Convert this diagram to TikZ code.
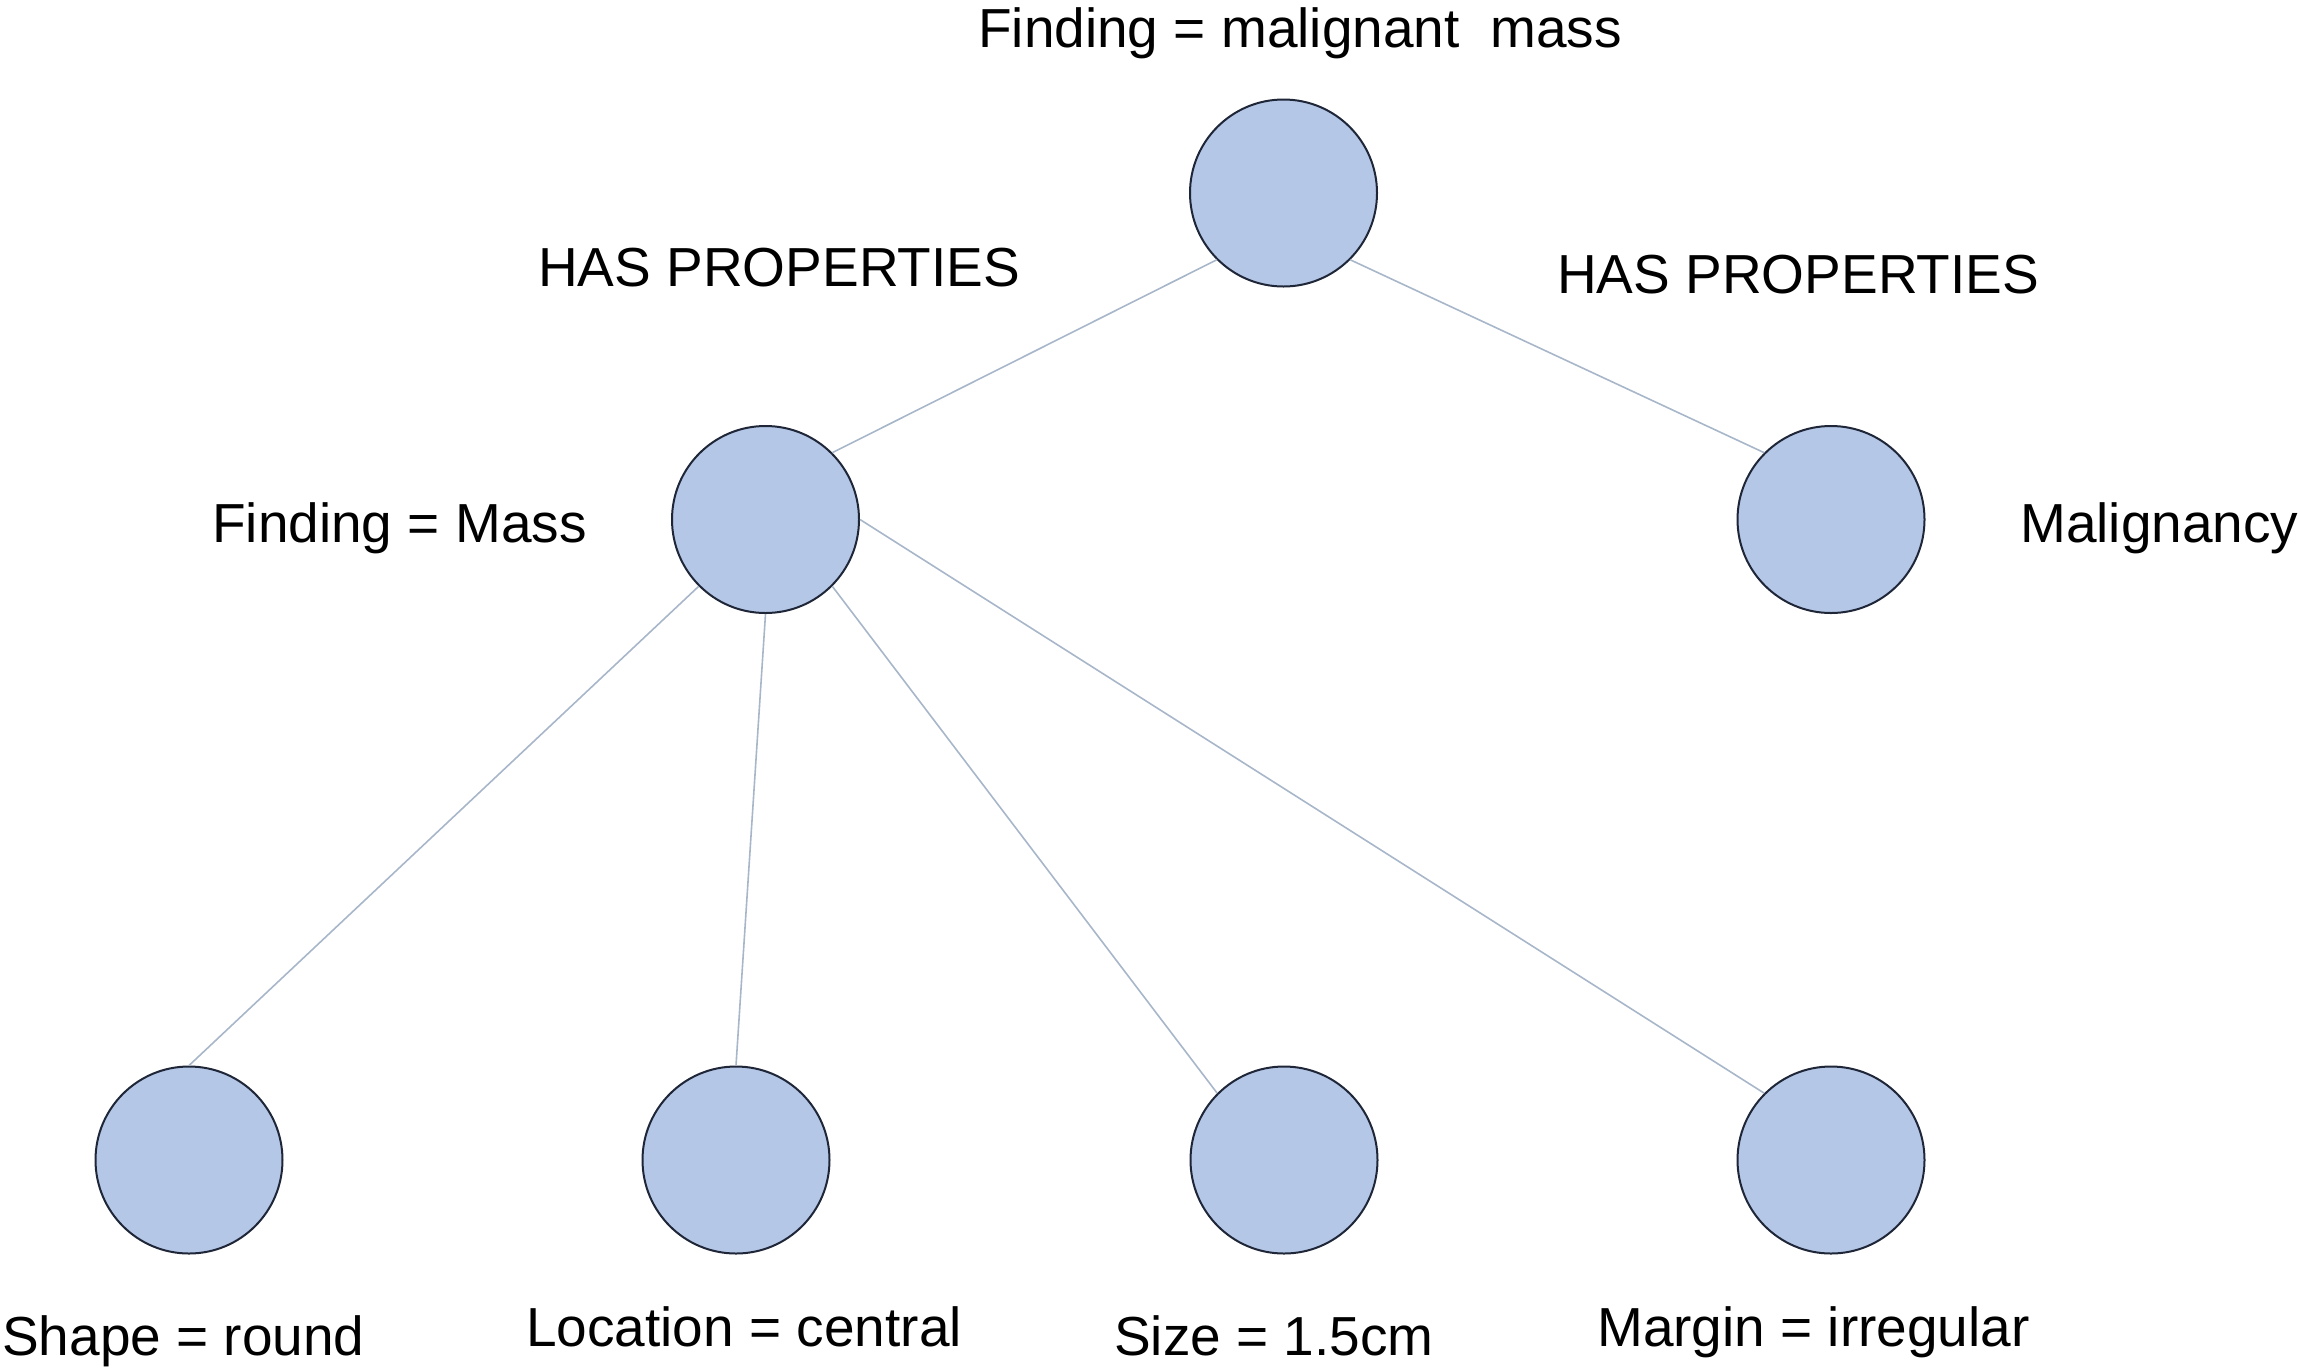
\documentclass[tikz,border=0pt]{standalone}
\usepackage{fontspec}
\setmainfont{Liberation Sans}
\definecolor{nodefill}{HTML}{B4C7E7}
\definecolor{nodeline}{HTML}{1E2638}
\definecolor{edgecol}{HTML}{A8B6C9}
\tikzset{
  ball/.style={circle, draw=nodeline, fill=nodefill, line width=2pt, minimum size=187pt, inner sep=0pt},
  edge/.style={draw=edgecol, line width=1.6pt},
  lbl/.style={anchor=base west, inner sep=0pt, font=\fontsize{55}{66}\selectfont}
}
\begin{document}
\begin{tikzpicture}[x=1pt,y=-1pt]
\useasboundingbox (0,0) rectangle (2299,1369);
\node[ball] (top) at (1283.5,193) {};
\node[ball] (mass) at (765.5,519.5) {};
\node[ball] (malig) at (1831,519.5) {};
\node[ball] (shape) at (189,1160) {};
\node[ball] (loc) at (736,1160) {};
\node[ball] (size) at (1284,1160) {};
\node[ball] (margin) at (1831,1160) {};

\draw[edge] (top.south west) -- (mass.north east);
\draw[edge] (top.south east) -- (malig.north west);
\draw[edge] (mass.south west) -- (shape.north);
\draw[edge] (mass.south) -- (loc.north);
\draw[edge] (mass.south east) -- (size.north west);
\draw[edge] (mass.east) -- (margin.north west);

\node[lbl] (ttop) at (978,47) {Finding = malignant\ \ mass};
\node[lbl] (hpl) at (538,286) {HAS PROPERTIES};
\node[lbl] (hpr) at (1557,293) {HAS PROPERTIES};
\node[lbl] (tmass) at (212,542) {Finding = Mass};
\node[lbl] (tmalig) at (2020,542) {Malignancy};
\node[lbl] (tshape) at (2,1355) {Shape = round};
\node[lbl] (tloc) at (526,1346) {Location = central};
\node[lbl] (tsize) at (1114,1355) {Size = 1.5cm};
\node[lbl] (tmargin) at (1597,1346) {Margin = irregular};
\end{tikzpicture}
\end{document}
